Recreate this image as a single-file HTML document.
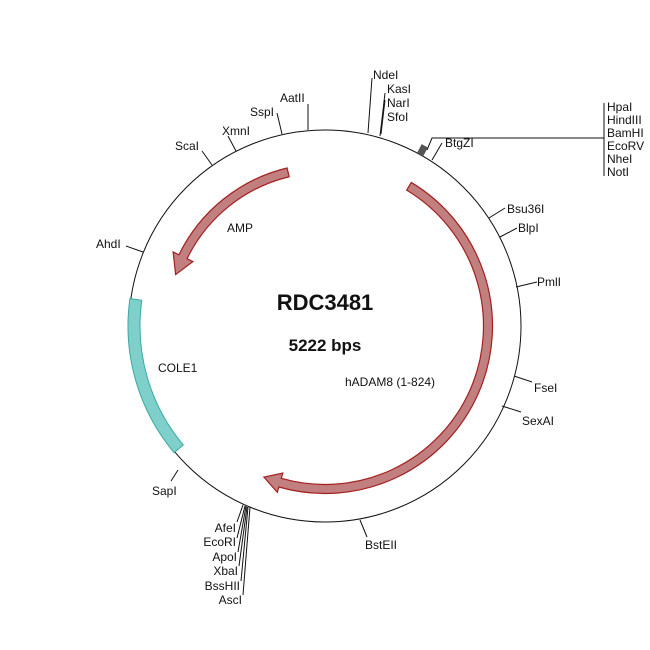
<!DOCTYPE html>
<html><head><meta charset="utf-8"><style>
body{margin:0;background:#fff}
svg{display:block}
text{font-family:"Liberation Sans",Arial,sans-serif;font-size:12px;fill:#111}
</style></head><body>
<svg id="s" width="650" height="650" viewBox="0 0 650 650">
<circle cx="325" cy="326" r="196" fill="none" stroke="#111" stroke-width="1"/>
<g id="feat"></g>
<g stroke="#111" stroke-width="1" fill="none">
<line x1="308" y1="130" x2="308" y2="104"/>
<line x1="282" y1="134" x2="277" y2="113"/>
<line x1="236" y1="151" x2="228" y2="136"/>
<line x1="212" y1="165" x2="202" y2="151"/>
<line x1="143" y1="252" x2="126" y2="246"/>
<line x1="368" y1="133" x2="372" y2="78"/>
<line x1="380" y1="136" x2="385" y2="93"/>
<line x1="381" y1="134" x2="385" y2="100"/>
<line x1="432" y1="160" x2="442" y2="143"/>
<polyline points="427,150 432,138 604,138"/>
<line x1="604" y1="103" x2="604" y2="176"/>
<line x1="489" y1="218" x2="505" y2="208"/>
<line x1="500" y1="237" x2="517" y2="228"/>
<line x1="516" y1="287" x2="537" y2="282"/>
<line x1="514" y1="376" x2="532" y2="382"/>
<line x1="502" y1="406" x2="521" y2="412"/>
<line x1="360" y1="520" x2="367" y2="537"/>
<line x1="178" y1="470" x2="171" y2="481"/>
<line x1="243" y1="505" x2="237" y2="522"/>
<line x1="245" y1="506" x2="237" y2="538"/>
<line x1="246" y1="506" x2="238" y2="552"/>
<line x1="247" y1="507" x2="239" y2="566"/>
<line x1="248" y1="507" x2="241" y2="581"/>
<line x1="250" y1="507" x2="243" y2="595"/>
</g>
<rect x="419" y="145" width="7" height="10" fill="#555" transform="rotate(28 422 150)"/>
<text x="280" y="102">AatII</text>
<text x="250" y="116">SspI</text>
<text x="222" y="135">XmnI</text>
<text x="175" y="150">ScaI</text>
<text x="96" y="248">AhdI</text>
<text x="373" y="79">NdeI</text>
<text x="387" y="93">KasI</text>
<text x="387" y="107">NarI</text>
<text x="387" y="121">SfoI</text>
<text x="445" y="147">BtgZI</text>
<text x="607" y="111">HpaI</text>
<text x="607" y="124">HindIII</text>
<text x="607" y="137">BamHI</text>
<text x="607" y="150">EcoRV</text>
<text x="607" y="163">NheI</text>
<text x="607" y="176">NotI</text>
<text x="507" y="213">Bsu36I</text>
<text x="518" y="232">BlpI</text>
<text x="537" y="286">PmlI</text>
<text x="534" y="392">FseI</text>
<text x="522" y="425">SexAI</text>
<text x="365" y="549">BstEII</text>
<text x="152" y="495">SapI</text>
<text x="236" y="532" text-anchor="end">AfeI</text>
<text x="236" y="546" text-anchor="end">EcoRI</text>
<text x="237" y="561" text-anchor="end">ApoI</text>
<text x="238" y="575" text-anchor="end">XbaI</text>
<text x="240" y="590" text-anchor="end">BssHII</text>
<text x="242" y="604" text-anchor="end">AscI</text>
<text x="227" y="232">AMP</text>
<text x="158" y="372">COLE1</text>
<text x="345" y="386">hADAM8 (1-824)</text>
<text x="325" y="310" text-anchor="middle" style="font-size:22px;font-weight:bold">RDC3481</text>
<text x="325" y="351" text-anchor="middle" style="font-size:17px;font-weight:bold">5222 bps</text>
</svg>
<script>
var cx=325,cy=326;
function P(r,a){a=a*Math.PI/180;return [cx+r*Math.sin(a),cy-r*Math.cos(a)];}
function band(r1,r2,a1,a2){
 var p1=P(r2,a1),p2=P(r2,a2),p3=P(r1,a2),p4=P(r1,a1),l=(a2-a1)>180?1:0;
 return "M"+p1+" A"+r2+","+r2+" 0 "+l+",1 "+p2+" L"+p3+" A"+r1+","+r1+" 0 "+l+",0 "+p4+"Z";}
function arrowCW(r,w,a1,a2,hl,hw){
 var b=a2-hl,l=(b-a1)>180?1:0,ro=r+w/2,ri=r-w/2;
 return "M"+P(ro,a1)+" A"+ro+","+ro+" 0 "+l+",1 "+P(ro,b)+" L"+P(r+hw,b)+" L"+P(r,a2)+" L"+P(r-hw,b)+" L"+P(ri,b)+" A"+ri+","+ri+" 0 "+l+",0 "+P(ri,a1)+"Z";}
function arrowCCW(r,w,a1,a2,hl,hw){
 var b=a2+hl,l=(a1-b)>180?1:0,ro=r+w/2,ri=r-w/2;
 return "M"+P(ro,a1)+" A"+ro+","+ro+" 0 "+l+",0 "+P(ro,b)+" L"+P(r+hw,b)+" L"+P(r,a2)+" L"+P(r-hw,b)+" L"+P(ri,b)+" A"+ri+","+ri+" 0 "+l+",1 "+P(ri,a1)+"Z";}
var g=document.getElementById("feat"),h="";
h+='<path d="'+band(185,197,230,278)+'" fill="#7fcfcb" stroke="#3aa9a3" stroke-width="1"/>';
h+='<path d="'+arrowCW(163,9,31,202,6,10)+'" fill="#c27f7f" stroke="#a32020" stroke-width="1.2"/>';
h+='<path d="'+arrowCCW(158,9,346.5,289,7,11)+'" fill="#c27f7f" stroke="#a32020" stroke-width="1.2"/>';
g.innerHTML=h;
</script>
</body></html>
